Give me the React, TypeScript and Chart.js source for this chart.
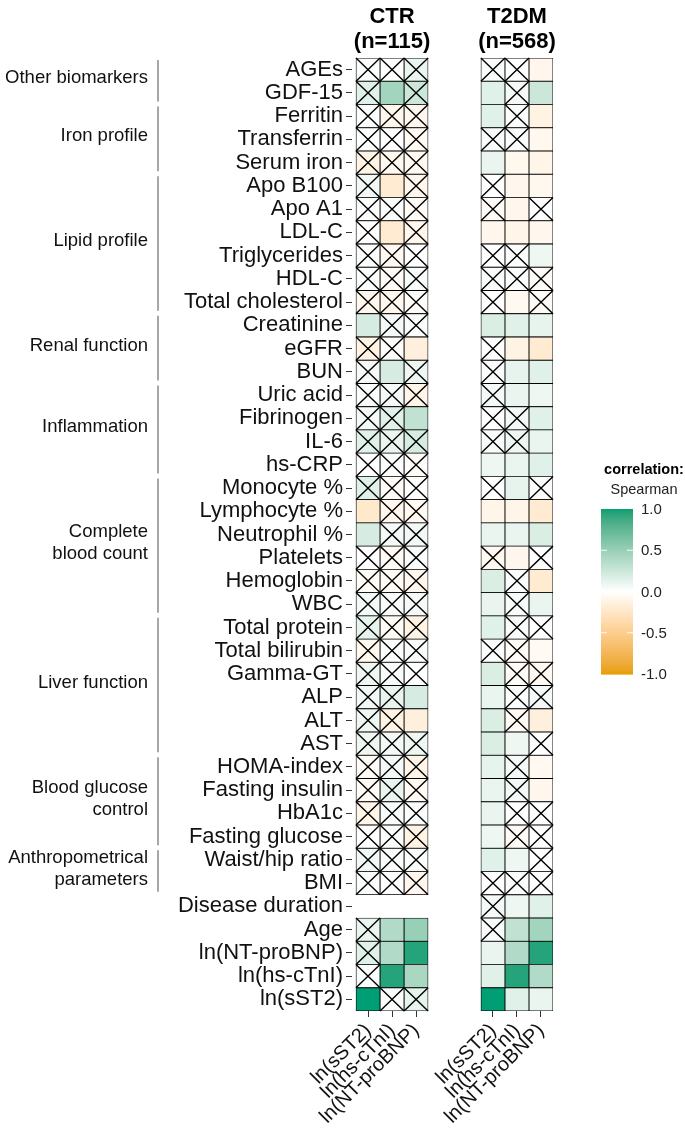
import { useEffect, useRef } from "react";
import { Chart, registerables } from "chart.js";

Chart.register(...registerables);

const rowLabels = [
  "AGEs", "GDF-15", "Ferritin", "Transferrin", "Serum iron", "Apo B100", "Apo A1", "LDL-C",
  "Triglycerides", "HDL-C", "Total cholesterol", "Creatinine", "eGFR", "BUN", "Uric acid",
  "Fibrinogen", "IL-6", "hs-CRP", "Monocyte %", "Lymphocyte %", "Neutrophil %", "Platelets",
  "Hemoglobin", "WBC", "Total protein", "Total bilirubin", "Gamma-GT", "ALP", "ALT", "AST",
  "HOMA-index", "Fasting insulin", "HbA1c", "Fasting glucose", "Waist/hip ratio", "BMI",
  "Disease duration", "Age", "ln(NT-proBNP)", "ln(hs-cTnI)", "ln(sST2)",
];

const columnLabels = ["ln(sST2)", "ln(hs-cTnI)", "ln(NT-proBNP)"];

const groupNames = [
  "Other biomarkers", "Iron profile", "Lipid profile", "Renal function", "Inflammation",
  "Complete\nblood count", "Liver function", "Blood glucose\ncontrol", "Anthropometrical\nparameters",
];
const groupSizes = [2, 3, 6, 3, 4, 6, 6, 4, 2];

// CTR (n=115) Spearman correlations
const ctrSST2 = [0.02, 0.15, 0.02, 0.01, -0.12, 0.07, 0.02, 0.0, 0.02, 0.02, -0.08, 0.2, -0.12, 0.05, 0.03, 0.05, 0.15, 0.0, 0.15, -0.22, 0.2, 0.0, -0.04, 0.06, 0.12, -0.07, 0.08, 0.06, 0.08, 0.08, -0.04, -0.04, -0.1, 0.0, 0.07, 0.02, null, 0.1, 0.15, 0.03, 1.0];
const ctrTnI = [0.0, 0.45, -0.08, 0.0, -0.07, -0.2, 0.02, -0.2, -0.06, -0.04, -0.08, 0.05, -0.02, 0.2, 0.05, 0.15, 0.1, 0.02, -0.03, -0.08, 0.05, -0.05, -0.05, 0.03, -0.05, 0.02, 0.04, 0.1, -0.12, 0.06, 0.05, 0.1, 0.04, 0.02, 0.03, 0.0, null, 0.38, 0.38, 0.95, 0.03];
const ctrBNP = [0.1, 0.25, -0.08, -0.05, -0.06, -0.08, -0.04, -0.08, 0.0, 0.04, -0.02, 0.02, -0.15, 0.08, -0.1, 0.3, 0.2, -0.04, 0.0, -0.06, 0.07, 0.02, -0.08, 0.05, -0.12, 0.04, 0.0, 0.2, -0.15, 0.08, -0.1, -0.05, 0.02, -0.12, 0.02, -0.08, null, 0.5, 0.95, 0.42, 0.12];
// 1 = not significant (crossed)
const ctrSST2Ns = [1, 1, 1, 1, 1, 1, 1, 1, 1, 1, 1, 0, 1, 1, 1, 1, 1, 1, 1, 0, 0, 1, 1, 1, 1, 1, 1, 1, 1, 1, 1, 1, 1, 1, 1, 1, 0, 1, 1, 1, 0];
const ctrTnINs = [1, 0, 1, 1, 1, 0, 1, 0, 1, 1, 1, 1, 1, 0, 1, 1, 1, 1, 1, 1, 1, 1, 1, 1, 1, 1, 1, 1, 1, 1, 1, 1, 1, 1, 1, 1, 0, 0, 0, 0, 1];
const ctrBNPNs = [1, 1, 1, 1, 1, 1, 1, 1, 1, 1, 1, 1, 0, 1, 1, 0, 1, 1, 1, 1, 1, 1, 1, 1, 1, 1, 1, 0, 0, 1, 1, 1, 1, 1, 1, 1, 0, 0, 0, 0, 1];

// T2DM (n=568) Spearman correlations
const t2dmSST2 = [0.02, 0.15, 0.15, 0.03, 0.1, 0.0, -0.03, -0.08, 0.0, 0.03, 0.0, 0.18, 0.0, 0.03, 0.05, 0.0, 0.03, 0.08, 0.0, -0.1, 0.1, -0.06, 0.18, 0.1, 0.15, 0.02, 0.18, 0.1, 0.18, 0.18, 0.12, 0.1, 0.1, 0.08, 0.15, 0.0, 0.05, 0.03, 0.1, 0.15, 1.0];
const t2dmTnI = [0.0, 0.05, 0.02, 0.02, -0.07, -0.08, -0.08, -0.1, 0.02, 0.02, -0.06, 0.15, -0.12, 0.12, 0.1, 0.06, 0.08, 0.1, 0.12, -0.1, 0.1, -0.08, 0.02, 0.04, 0.03, -0.04, -0.03, 0.02, -0.05, 0.08, 0.05, 0.06, 0.0, -0.05, 0.08, 0.02, 0.08, 0.3, 0.38, 0.95, 0.15];
const t2dmBNP = [-0.08, 0.25, -0.12, -0.07, -0.1, -0.07, 0.0, -0.08, 0.08, -0.03, -0.03, 0.12, -0.2, 0.15, 0.08, 0.15, 0.1, 0.15, 0.02, -0.2, 0.18, 0.0, -0.2, 0.1, 0.0, -0.05, -0.06, 0.05, -0.15, 0.0, -0.06, -0.08, 0.0, 0.0, 0.0, 0.0, 0.15, 0.45, 0.95, 0.38, 0.1];
const t2dmSST2Ns = [1, 0, 0, 1, 0, 1, 1, 0, 1, 1, 1, 0, 1, 1, 1, 1, 1, 0, 1, 0, 0, 1, 0, 0, 0, 1, 0, 0, 0, 0, 0, 0, 0, 0, 0, 1, 1, 1, 0, 0, 0];
const t2dmTnINs = [1, 1, 1, 1, 0, 0, 0, 0, 1, 1, 0, 0, 0, 0, 0, 1, 1, 0, 0, 0, 0, 0, 1, 1, 1, 1, 1, 1, 1, 0, 1, 1, 1, 1, 0, 1, 0, 0, 0, 0, 0];
const t2dmBNPNs = [0, 0, 0, 0, 0, 0, 1, 0, 0, 1, 1, 0, 0, 0, 0, 0, 0, 0, 1, 0, 0, 1, 0, 0, 1, 0, 1, 1, 0, 1, 0, 0, 1, 1, 1, 1, 0, 0, 0, 0, 0];

const legendBreaks = [1.0, 0.5, 0.0, -0.5, -1.0];
const legendBreakLabels = ["1.0", "0.5", "0.0", "-0.5", "-1.0"];

const panels = [
  { title: "CTR", subtitle: "(n=115)", offset: 0, values: [ctrSST2, ctrTnI, ctrBNP], ns: [ctrSST2Ns, ctrTnINs, ctrBNPNs] },
  { title: "T2DM", subtitle: "(n=568)", offset: 5.2, values: [t2dmSST2, t2dmTnI, t2dmBNP], ns: [t2dmSST2Ns, t2dmTnINs, t2dmBNPNs] },
];

const FONT = "'Liberation Sans', Arial, Helvetica, sans-serif";

// ---- colour scale (CIELAB interpolation, like ggplot's gradient2) ----
function hexToRgb(h: string) {
  return [parseInt(h.slice(1, 3), 16), parseInt(h.slice(3, 5), 16), parseInt(h.slice(5, 7), 16)];
}
function rgbToLab(c: number[]) {
  const lin = c.map((v) => {
    const s = v / 255;
    return s <= 0.04045 ? s / 12.92 : Math.pow((s + 0.055) / 1.055, 2.4);
  });
  const X = (0.4124 * lin[0] + 0.3576 * lin[1] + 0.1805 * lin[2]) / 0.95047;
  const Y = 0.2126 * lin[0] + 0.7152 * lin[1] + 0.0722 * lin[2];
  const Z = (0.0193 * lin[0] + 0.1192 * lin[1] + 0.9505 * lin[2]) / 1.08883;
  const f = (t: number) => (t > 0.008856 ? Math.cbrt(t) : 7.787 * t + 16 / 116);
  const fx = f(X), fy = f(Y), fz = f(Z);
  return [116 * fy - 16, 500 * (fx - fy), 200 * (fy - fz)];
}
function labToRgb(lab: number[]) {
  const fy = (lab[0] + 16) / 116;
  const fx = fy + lab[1] / 500;
  const fz = fy - lab[2] / 200;
  const inv = (t: number) => (t * t * t > 0.008856 ? t * t * t : (t - 16 / 116) / 7.787);
  const X = inv(fx) * 0.95047, Y = inv(fy), Z = inv(fz) * 1.08883;
  const r = 3.2406 * X - 1.5372 * Y - 0.4986 * Z;
  const g = -0.9689 * X + 1.8758 * Y + 0.0415 * Z;
  const b = 0.0557 * X - 0.204 * Y + 1.057 * Z;
  return [r, g, b].map((v) => {
    const s = v <= 0.0031308 ? 12.92 * v : 1.055 * Math.pow(v, 1 / 2.4) - 0.055;
    return Math.round(Math.max(0, Math.min(1, s)) * 255);
  });
}
const LOW = rgbToLab(hexToRgb("#E69F00"));
const MID = rgbToLab([255, 255, 255]);
const HIGH = rgbToLab(hexToRgb("#009E73"));
function fillFor(v: number | null | undefined) {
  if (v == null) return "rgba(0,0,0,0)";
  const t = Math.max(-1, Math.min(1, v));
  const target = t >= 0 ? HIGH : LOW;
  const f = Math.abs(t);
  const lab = MID.map((m, i) => m + (target[i] - m) * f);
  const [r, g, b] = labToRgb(lab);
  return `rgb(${r},${g},${b})`;
}

const tickPositions: number[] = [];
panels.forEach((p) => columnLabels.forEach((_, j) => tickPositions.push(p.offset + j + 0.5)));

const decorPlugin = {
  id: "decor",
  afterDatasetsDraw(chart: any) {
    const ctx = chart.ctx;
    // crosses for non-significant cells
    chart.data.datasets.forEach((ds: any, di: number) => {
      const meta = chart.getDatasetMeta(di);
      meta.data.forEach((el: any, k: number) => {
        if (ds.rawValues[k] == null || !ds.crossed[k]) return;
        const { x, y, base, height } = el.getProps(["x", "y", "base", "height"], true);
        const l = Math.min(x, base), r = Math.max(x, base);
        const t = y - height / 2, b = y + height / 2;
        ctx.save();
        ctx.strokeStyle = "#000";
        ctx.lineWidth = 1.4;
        ctx.beginPath();
        ctx.moveTo(l, t);
        ctx.lineTo(r, b);
        ctx.moveTo(r, t);
        ctx.lineTo(l, b);
        ctx.stroke();
        ctx.restore();
      });
    });
  },
  afterDraw(chart: any) {
    const ctx = chart.ctx;
    const xs = chart.scales.x;
    const ys = chart.scales.y;
    const area = chart.chartArea;
    const rowH = (area.bottom - area.top) / rowLabels.length;
    ctx.save();
    ctx.fillStyle = "#000";
    ctx.textAlign = "center";
    ctx.textBaseline = "middle";
    // panel titles
    panels.forEach((p) => {
      const cx = xs.getPixelForValue(p.offset + 1.5);
      ctx.font = `bold 22px ${FONT}`;
      ctx.fillText(p.title, cx, 17);
      ctx.fillText(p.subtitle, cx, 42);
    });
    // group labels and brackets
    let start = 0;
    groupNames.forEach((name, gi) => {
      const n = groupSizes[gi];
      const top = ys.getPixelForValue(start) - rowH / 2;
      const bottom = ys.getPixelForValue(start + n - 1) + rowH / 2;
      ctx.strokeStyle = "#8a8a8a";
      ctx.lineWidth = 1.5;
      ctx.beginPath();
      ctx.moveTo(158, top + 2);
      ctx.lineTo(158, bottom - 3);
      ctx.stroke();
      const lines = name.split("\n");
      ctx.font = `18.5px ${FONT}`;
      ctx.textAlign = "right";
      ctx.fillStyle = "#111";
      const lh = 22;
      const cy = (top + bottom) / 2 - 3;
      lines.forEach((ln, li) => {
        ctx.fillText(ln, 148, cy + (li - (lines.length - 1) / 2) * lh);
      });
      start += n;
    });
    // legend
    const barX = 601, barW = 32, barTop = 509, barBottom = 674;
    ctx.textAlign = "center";
    ctx.fillStyle = "#000";
    ctx.font = `bold 14.5px ${FONT}`;
    ctx.fillText("correlation:", 644, 470);
    ctx.font = `14.5px ${FONT}`;
    ctx.fillStyle = "#222";
    ctx.fillText("Spearman", 644, 490);
    const steps = 165;
    for (let i = 0; i < steps; i++) {
      const v = 1 - (2 * (i + 0.5)) / steps;
      ctx.fillStyle = fillFor(v);
      const y0 = barTop + ((barBottom - barTop) * i) / steps;
      ctx.fillRect(barX, y0, barW, (barBottom - barTop) / steps + 0.6);
    }
    const valToY = (v: number) => barTop + ((1 - v) / 2) * (barBottom - barTop);
    ctx.strokeStyle = "rgba(255,255,255,0.9)";
    ctx.lineWidth = 1;
    legendBreaks.forEach((v, i) => {
      const y = valToY(v);
      if (v !== 1 && v !== -1) {
        ctx.beginPath();
        ctx.moveTo(barX, y);
        ctx.lineTo(barX + 6, y);
        ctx.moveTo(barX + barW - 6, y);
        ctx.lineTo(barX + barW, y);
        ctx.stroke();
      }
      ctx.fillStyle = "#222";
      ctx.textAlign = "left";
      ctx.font = `15px ${FONT}`;
      ctx.fillText(legendBreakLabels[i], 641, y + 1);
    });
    ctx.restore();
  },
};

export default function App() {
  const canvasRef = useRef<HTMLCanvasElement | null>(null);

  useEffect(() => {
    const canvas = canvasRef.current;
    if (!canvas) return;
    const datasets: any[] = [];
    panels.forEach((p) => {
      p.values.forEach((vals, j) => {
        datasets.push({
          label: `${p.title} ${columnLabels[j]}`,
          data: vals.map((v) => (v == null ? null : [p.offset + j, p.offset + j + 1])),
          rawValues: vals,
          crossed: p.ns[j],
          backgroundColor: (c: any) => fillFor(vals[c.dataIndex]),
          borderColor: "#000",
          borderWidth: 0.8,
          borderSkipped: false,
          grouped: false,
          barPercentage: 1,
          categoryPercentage: 1,
        });
      });
    });

    const chart = new Chart(canvas, {
      type: "bar",
      data: { labels: rowLabels, datasets },
      options: {
        indexAxis: "y",
        animation: false,
        responsive: false,
        events: [],
        layout: { padding: { top: 58, right: 132, bottom: 0, left: 0 } },
        plugins: { legend: { display: false }, tooltip: { enabled: false } },
        scales: {
          y: {
            type: "category",
            afterFit: (s: any) => {
              s.width = 352;
            },
            ticks: {
              autoSkip: false,
              color: "#111",
              padding: 3,
              font: { family: FONT, size: 22 },
            },
            grid: { display: true, drawOnChartArea: false, drawTicks: true, tickLength: 6, offset: false, color: "#333", lineWidth: 1 },
            border: { display: false },
          },
          x: {
            type: "linear",
            min: -1 / 6,
            max: 8.2,
            afterBuildTicks: (s: any) => {
              s.ticks = tickPositions.map((v) => ({ value: v }));
            },
            afterFit: (s: any) => {
              s.height = 119;
            },
            ticks: {
              autoSkip: false,
              minRotation: 45,
              maxRotation: 45,
              color: "#111",
              padding: 2,
              font: { family: FONT, size: 20 },
              callback: (_v: any, i: number) => columnLabels[i % columnLabels.length],
            },
            grid: { display: true, drawOnChartArea: false, drawTicks: true, tickLength: 6, offset: false, color: "#333", lineWidth: 1 },
            border: { display: false },
          },
        },
      } as any,
      plugins: [decorPlugin],
    });
    return () => chart.destroy();
  }, []);

  return (
    <div style={{ position: "absolute", left: 0, top: 0, width: 685, height: 1130, background: "#fff" }}>
      <canvas ref={canvasRef} width={685} height={1130} style={{ display: "block" }} />
    </div>
  );
}
